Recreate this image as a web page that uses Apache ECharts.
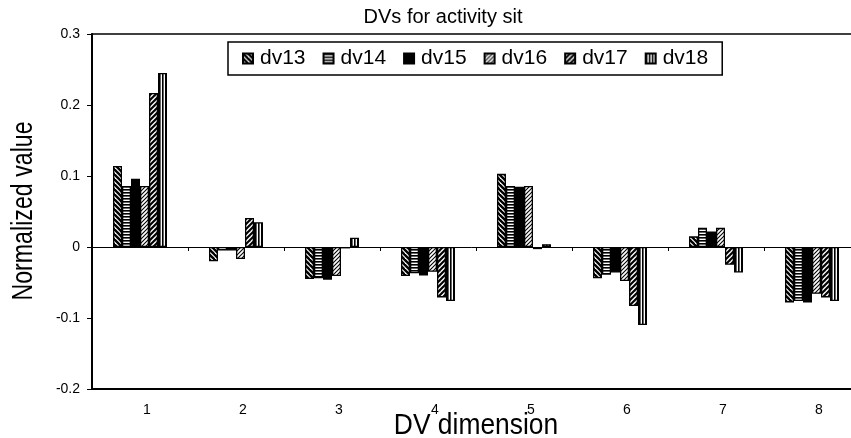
<!DOCTYPE html>
<html>
<head>
<meta charset="utf-8">
<script src="https://cdn.jsdelivr.net/npm/echarts@6/dist/echarts.min.js"></script>
<style>
  html, body { margin: 0; padding: 0; background: #fff; }
  #chart { width: 851px; height: 438px; }
</style>
</head>
<body>
<div id="chart"></div>
<script>
// DV dimension categories and per-descriptor normalized values
const categories = ['1', '2', '3', '4', '5', '6', '7', '8'];
const seriesNames = ['dv13', 'dv14', 'dv15', 'dv16', 'dv17', 'dv18'];
const dv13 = [0.114, -0.020, -0.045, -0.041, 0.103, -0.044, 0.015, -0.078];
const dv14 = [0.086, -0.005, -0.044, -0.037, 0.086, -0.039, 0.027, -0.076];
const dv15 = [0.096, -0.005, -0.046, -0.040, 0.085, -0.036, 0.022, -0.078];
const dv16 = [0.086, -0.017, -0.041, -0.035, 0.086, -0.048, 0.027, -0.066];
const dv17 = [0.217, 0.041, -0.002, -0.071, -0.003, -0.083, -0.025, -0.071];
const dv18 = [0.245, 0.035, 0.013, -0.076, 0.004, -0.110, -0.036, -0.076];
const yTicks = { min: -0.2, max: 0.3, step: 0.1 };

const seriesValues = [dv13, dv14, dv15, dv16, dv17, dv18];

// Monochrome hatch fills
function hatch(kind) {
  const s = kind === 'h' || kind === 'v' ? 3 : (kind === 'fwdLight' ? 4 : 5);
  const c = document.createElement('canvas');
  c.width = c.height = s;
  const g = c.getContext('2d');
  g.fillStyle = '#fff';
  g.fillRect(0, 0, s, s);
  g.fillStyle = '#000';
  g.strokeStyle = '#000';
  if (kind === 'solid') {
    g.fillRect(0, 0, s, s);
  } else if (kind === 'h') {
    g.fillRect(0, 0, s, 1.6);
  } else if (kind === 'v') {
    g.fillRect(0, 0, 1.6, s);
  } else {
    const back = kind === 'back';
    g.lineWidth = kind === 'fwdLight' ? 1.1 : (back ? 2.4 : 2.1);
    for (const k of [-s, 0, s]) {
      g.beginPath();
      if (back) {
        g.moveTo(k - 1, -1);
        g.lineTo(k + s + 1, s + 1);
      } else {
        g.moveTo(k - 1, s + 1);
        g.lineTo(k + s + 1, -1);
      }
      g.stroke();
    }
  }
  return { image: c, repeat: 'repeat' };
}

const fills = [hatch('back'), hatch('h'), hatch('solid'), hatch('fwdLight'), hatch('fwd'), hatch('v')];

const FONT = "'Liberation Sans', Arial, sans-serif";

const chart = echarts.init(document.getElementById('chart'), null, { renderer: 'canvas' });

chart.setOption({
  backgroundColor: '#fff',
  animation: false,
  title: {
    text: 'DVs for activity sit',
    left: 438,
    textAlign: 'center',
    top: 2,
    textStyle: { fontFamily: FONT, fontSize: 20, fontWeight: 'normal', color: '#000' }
  },
  legend: {
    data: seriesNames,
    left: 228,
    top: 42,
    padding: [6, 14],
    itemGap: 17,
    itemWidth: 10,
    itemHeight: 10,
    icon: 'rect',
    borderColor: '#000',
    borderWidth: 1.5,
    backgroundColor: '#fff',
    textStyle: { fontFamily: FONT, fontSize: 21, color: '#000', padding: [0, 0, 0, 2] }
  },
  // Condensed axis titles
  graphic: [
    {
      type: 'text',
      x: 24,
      y: 211,
      rotation: Math.PI / 2,
      scaleX: 0.8,
      style: {
        text: 'Normalized value',
        fontFamily: FONT,
        fontSize: 29,
        fill: '#000',
        align: 'center',
        verticalAlign: 'middle'
      }
    },
    {
      type: 'text',
      x: 476,
      y: 426,
      scaleX: 0.88,
      style: {
        text: 'DV dimension',
        fontFamily: FONT,
        fontSize: 30,
        fill: '#000',
        align: 'center',
        verticalAlign: 'middle'
      }
    }
  ],
  grid: {
    left: 92,
    top: 34,
    width: 768,
    bottom: 49,
    outerBoundsMode: 'none',
    containLabel: false,
    show: true,
    borderColor: '#000',
    borderWidth: 1.5,
    backgroundColor: 'transparent'
  },
  xAxis: [
    {
      type: 'category',
      data: categories,
      position: 'bottom',
      axisLine: { onZero: false, lineStyle: { color: '#000', width: 2 } },
      axisTick: { show: false },
      axisLabel: { fontFamily: FONT, fontSize: 14, color: '#000', margin: 14, padding: [0, 0, 0, 14] }
    },
    {
      type: 'category',
      data: categories,
      position: 'bottom',
      axisLine: { onZero: true, lineStyle: { color: '#000', width: 1 } },
      axisTick: { show: true, inside: false, length: 4, lineStyle: { color: '#000' } },
      axisLabel: { show: false }
    }
  ],
  yAxis: {
    type: 'value',
    min: yTicks.min,
    max: yTicks.max,
    interval: yTicks.step,
    axisLine: { show: true, lineStyle: { color: '#000', width: 2 } },
    axisTick: { show: true, length: 5, lineStyle: { color: '#000' } },
    axisLabel: { fontFamily: FONT, fontSize: 14, color: '#000', margin: 12 },
    splitLine: { show: false }
  },
  series: seriesNames.map((name, i) => ({
    name,
    type: 'bar',
    xAxisIndex: 0,
    data: seriesValues[i],
    barWidth: 9,
    barGap: '0%',
    itemStyle: { color: fills[i], borderColor: '#000', borderWidth: 1.3 }
  }))
});
</script>
</body>
</html>
